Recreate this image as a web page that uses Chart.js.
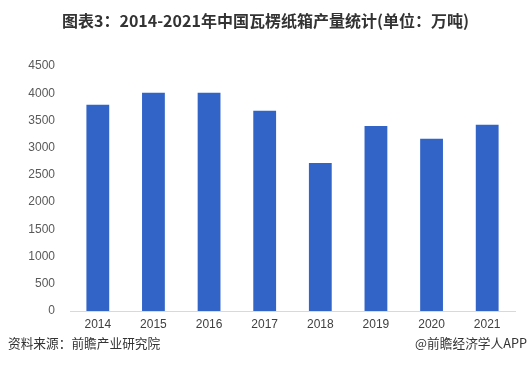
<!DOCTYPE html>
<html><head><meta charset="utf-8">
<script src="https://cdn.jsdelivr.net/npm/chart.js@4/dist/chart.umd.min.js"></script>
<style>
html,body{margin:0;padding:0;background:#fff;}
#wrap{position:relative;width:531px;height:380px;overflow:hidden;}
#title{position:absolute;left:0;top:8px;width:531px;text-align:center;font:bold 16px "Noto Sans CJK SC","Liberation Sans",sans-serif;color:#333;}
.foot{position:absolute;top:333px;font:12.7px "Noto Sans CJK SC","Liberation Sans",sans-serif;color:#333;}
canvas{position:absolute;left:0;top:0;}
</style></head>
<body><div id="wrap">
<canvas id="c" width="531" height="380"></canvas>
<div id="title">图表3：2014-2021年中国瓦楞纸箱产量统计(单位：万吨)</div>
<div class="foot" style="left:8px">资料来源：前瞻产业研究院</div>
<div class="foot" style="right:4px">@前瞻经济学人APP</div>
</div>
<script>
const categories = ['2014','2015','2016','2017','2018','2019','2020','2021'];
const production = [3786, 4007, 4007, 3676, 2720, 3400, 3162, 3419];
const yTicks = [0,500,1000,1500,2000,2500,3000,3500,4000,4500];

new Chart(document.getElementById('c'), {
  type: 'bar',
  data: { labels: categories, datasets: [{ data: production, backgroundColor: '#3264c8', categoryPercentage: 0.82, barPercentage: 0.5 }] },
  options: {
    responsive: false, animation: false,
    layout: { padding: { left: 0, right: 16, top: 66, bottom: 45 } },
    plugins: { legend: { display: false }, tooltip: { enabled: false } },
    scales: {
      x: {
        grid: { display: false, drawTicks: false },
        border: { color: '#d9d9d9', width: 1 },
        ticks: { color: '#404040', font: { family: 'Liberation Sans', size: 12 }, padding: 6 },
        afterFit: s => { s.height = 24; }
      },
      y: {
        min: 0, max: 4500,
        grid: { display: false, drawTicks: false },
        border: { display: false },
        afterBuildTicks: s => { s.ticks = yTicks.map(v => ({ value: v })); },
        ticks: { color: '#595959', font: { family: 'Liberation Sans', size: 12 }, padding: 15, callback: v => String(v) },
        afterFit: s => { s.width = 70; }
      }
    }
  }
});
</script>
</body></html>
